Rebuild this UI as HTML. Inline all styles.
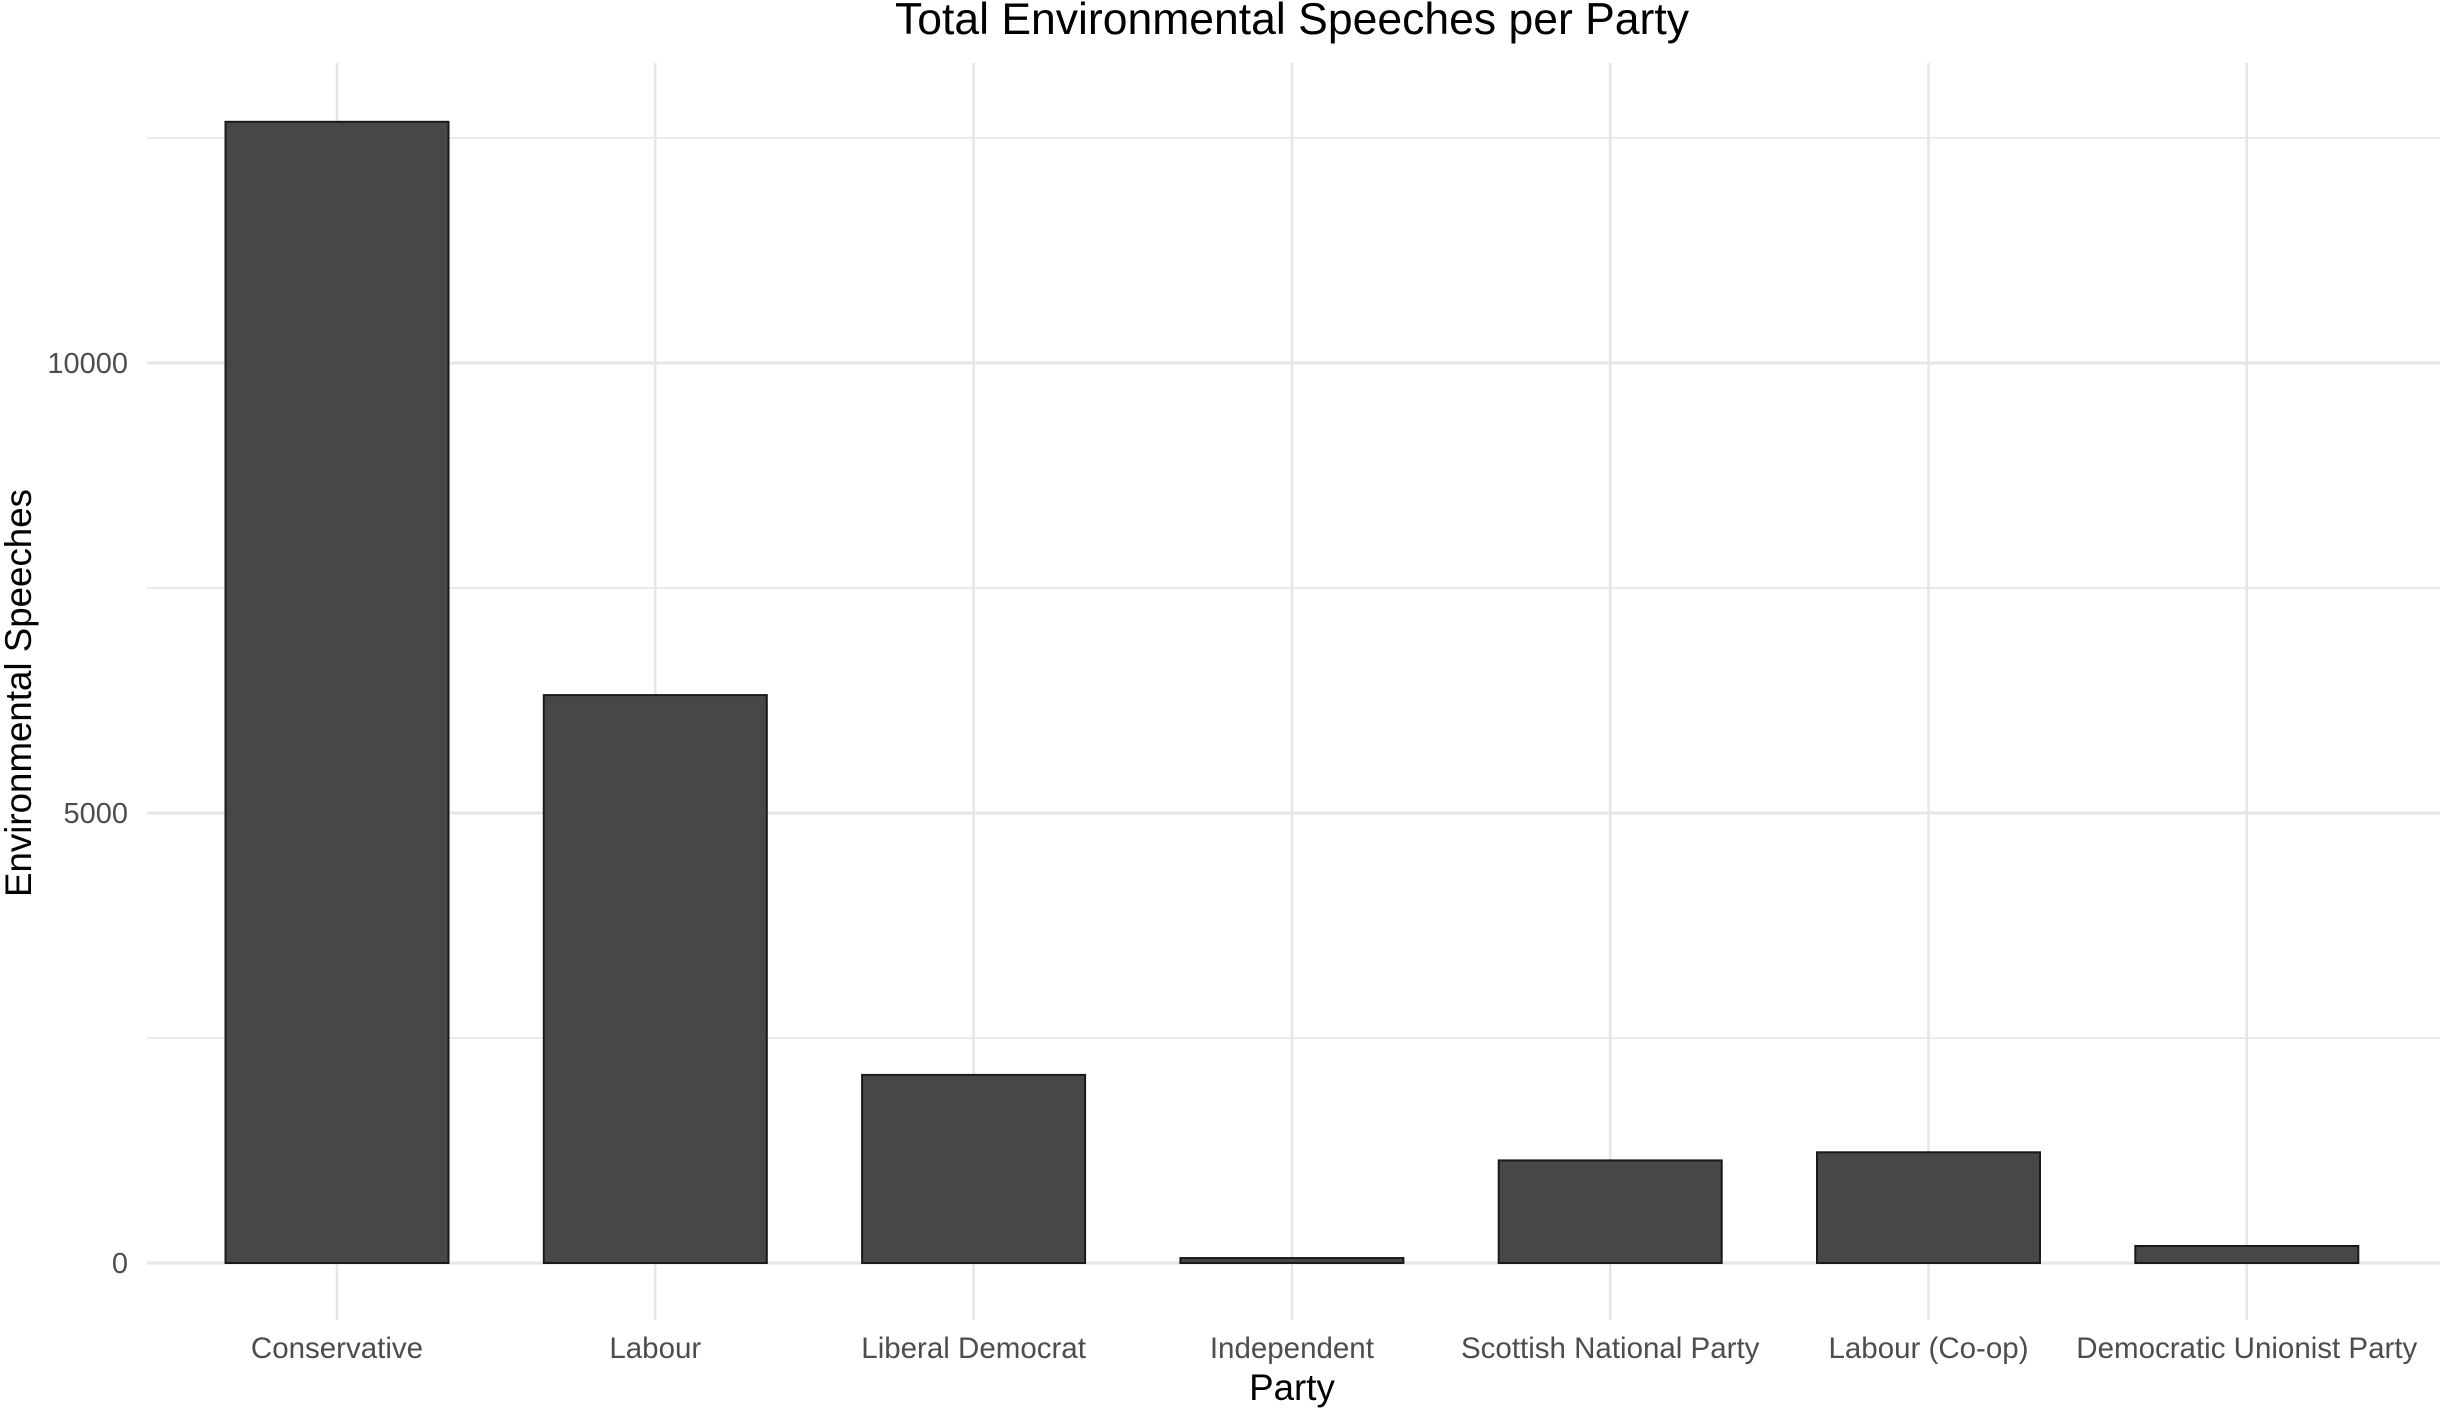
<!DOCTYPE html>
<html><head><meta charset="utf-8"><style>
html,body{margin:0;padding:0;background:#fff;}
svg{display:block;font-family:"Liberation Sans",Arial,sans-serif;}
</style></head><body>
<svg id="chart" width="2443" height="1415" viewBox="0 0 2443 1415">
<text x="1292" y="34" font-size="44.5" text-anchor="middle" fill="#000">Total Environmental Speeches per Party</text>
<g id="grid"></g>
<g id="bars"></g>
<g id="xlabels"></g>
<g id="ylabels"></g>
<text x="1292" y="1400" font-size="36.7" text-anchor="middle" fill="#000">Party</text>
<text transform="translate(31,693) rotate(-90)" font-size="36.7" text-anchor="middle" fill="#000">Environmental Speeches</text>
</svg>
<script>
const categories = ["Conservative","Labour","Liberal Democrat","Independent","Scottish National Party","Labour (Co-op)","Democratic Unionist Party"];
const values = [12680, 6310, 2090, 55, 1140, 1230, 189];
const majorTicks = [0, 5000, 10000];
const minorTicks = [2500, 7500, 12500];

const NS = "http://www.w3.org/2000/svg";
const panelL = 147, panelR = 2440, panelT = 63, panelB = 1320;
const y0 = 1263, pxPerUnit = 0.09;
const firstX = 337, step = 318.3, barW = 223;
function yScale(v){ return y0 - v * pxPerUnit; }
function xScale(i){ return firstX + i * step; }
function mk(tag, attrs, parent){ const e=document.createElementNS(NS,tag); for(const k in attrs) e.setAttribute(k, attrs[k]); parent.appendChild(e); return e; }

const grid = document.getElementById('grid');
minorTicks.forEach(t => {
  const l = mk('line',{x1:panelL,x2:panelR,y1:yScale(t),y2:yScale(t),stroke:'#ebebeb','stroke-width':2},grid);
  
  
});
majorTicks.forEach(t => {
  const l = mk('line',{x1:panelL,x2:panelR,y1:yScale(t),y2:yScale(t),stroke:'#e6e6e6','stroke-width':3},grid);
  
  
});
categories.forEach((c,i) => {
  const l = mk('line',{x1:xScale(i),x2:xScale(i),y1:panelT,y2:panelB,stroke:'#e6e6e6','stroke-width':2.5},grid);
  
  
});

const bars = document.getElementById('bars');
values.forEach((v,i) => {
  const top = yScale(v);
  const r = mk('rect',{x:xScale(i)-barW/2,y:top,width:barW,height:Math.max(y0-top,3),fill:'#474747',stroke:'#1a1a1a','stroke-width':2},bars);
  
  
});

const xl = document.getElementById('xlabels');
categories.forEach((c,i) => {
  const t = mk('text',{x:xScale(i),y:1358,'font-size':29.5,'text-anchor':'middle',fill:'#4d4d4d'},xl);
  t.textContent = c;
  
  
});
const yl = document.getElementById('ylabels');
majorTicks.forEach(v => {
  const t = mk('text',{x:128,y:yScale(v)+10,'font-size':29,'text-anchor':'end',fill:'#4d4d4d'},yl);
  t.textContent = String(v);
  
  
});
</script>
</body></html>
